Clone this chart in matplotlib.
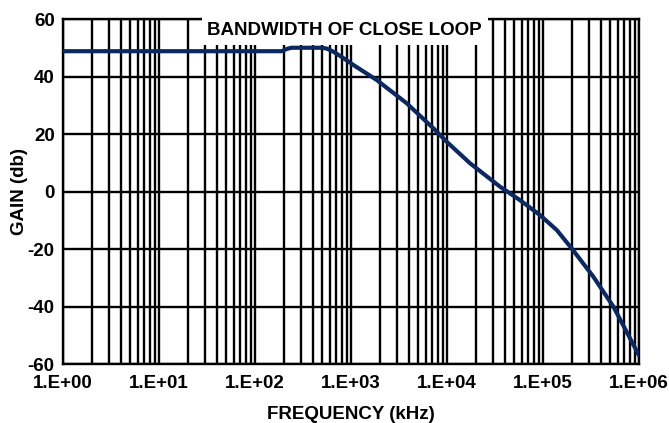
import numpy as np
import matplotlib.pyplot as plt
from matplotlib.ticker import LogLocator, FixedLocator

plt.rcParams['font.family'] = ['Liberation Sans', 'DejaVu Sans']
plt.rcParams['font.weight'] = 'bold'
plt.rcParams['axes.unicode_minus'] = False

# closed loop gain vs frequency
freq_khz = [1, 190, 215, 240, 400, 500, 560, 650, 800, 1060, 1850, 3800,
            7200, 9930, 17400, 35600, 57500, 93000, 139000, 199000,
            334000, 540000, 1000000]
gain_db = [48.8, 48.8, 49.6, 50.0, 50.0, 50.0, 49.7, 48.7, 46.8, 44.0, 38.8, 30.7,
           22.0, 17.3, 9.8, 1.7, -3.0, -8.2, -13.4, -19.8,
           -29.6, -40.0, -57.0]

xtick_vals = [1e0, 1e1, 1e2, 1e3, 1e4, 1e5, 1e6]
xtick_text = ["1.E+00", "1.E+01", "1.E+02", "1.E+03", "1.E+04", "1.E+05", "1.E+06"]
ytick_vals = [-60, -40, -20, 0, 20, 40, 60]

W, H = 669, 423
fig = plt.figure(figsize=(W / 100, H / 100), dpi=100)
ax = fig.add_axes([63 / W, 1 - 364 / H, 576 / W, 345 / H])

ax.set_xscale("log")
ax.set_xlim(1, 1e6)
ax.set_ylim(-60, 60)

ax.xaxis.set_major_locator(FixedLocator(xtick_vals))
ax.xaxis.set_minor_locator(LogLocator(base=10, subs=np.arange(2, 10)))
ax.set_xticks(xtick_vals)
ax.set_xticklabels(xtick_text)
ax.set_yticks(ytick_vals)

ax.grid(True, which="both", axis="x", color="black", lw=1.7)
ax.grid(True, which="major", axis="y", color="black", lw=1.7)
ax.set_axisbelow(True)
for s in ax.spines.values():
    s.set_linewidth(1.7)

ax.tick_params(which="both", length=0)
ax.tick_params(axis="x", pad=8, labelsize=13.5)
ax.tick_params(axis="y", pad=6, labelsize=13.5)
for lab in ax.get_xticklabels() + ax.get_yticklabels():
    lab.set_fontweight("bold")

ax.plot(freq_khz, gain_db, color="#0b2860", lw=3, solid_capstyle="round",
        solid_joinstyle="round", zorder=3)

ax.text(0.489, 0.966, "BANDWIDTH OF CLOSE LOOP", transform=ax.transAxes,
        ha="center", va="center", fontsize=13.5, fontweight="bold", zorder=4,
        bbox=dict(facecolor="white", edgecolor="none", pad=4))

fig.text(351 / W, 1 - 414 / H, "FREQUENCY (kHz)", ha="center", va="center",
         fontsize=13.5, fontweight="bold")
fig.text(20 / W, 1 - 191 / H, "GAIN (db)", ha="center", va="center",
         rotation=90, fontsize=13.5, fontweight="bold")

fig.savefig("out.png", dpi=100)
